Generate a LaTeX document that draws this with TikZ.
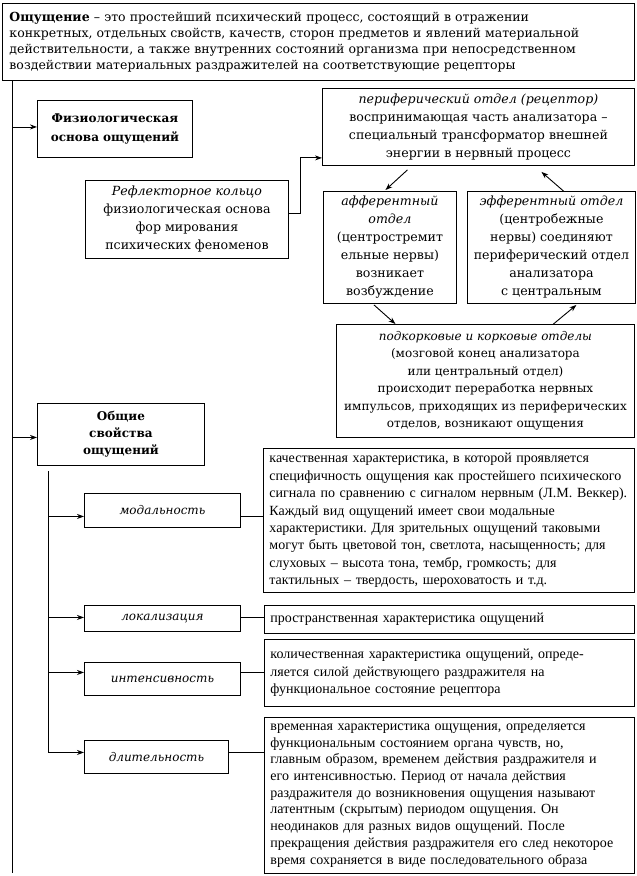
\documentclass[tikz,border=0pt]{standalone}
\usepackage{fontspec}
\setmainfont{DejaVu Serif}
\newfontfamily\tnr{Liberation Serif}
\usetikzlibrary{arrows.meta,calc}
\frenchspacing
\begin{document}
\begin{tikzpicture}[x=1pt,y=-1pt,
  bx/.style={draw, line width=0.9pt, inner sep=3pt, anchor=north west, align=center, font=\fontsize{12.6}{18}\selectfont},
  dsc/.style={draw, line width=0.9pt, inner xsep=6pt, inner ysep=2pt, anchor=north west, align=left, font=\tnr\fontsize{14}{17.4}\selectfont\frenchspacing},
  lbl/.style={draw, line width=0.9pt, anchor=north west, align=center, font=\itshape\fontsize{12}{14}\selectfont},
  arr/.style={line width=0.9pt, -{Stealth[length=7pt,width=5pt]}},
  ln/.style={line width=0.9pt}]
\useasboundingbox (0,0) rectangle (637,876);

\node[bx, align=left, text width=618pt, inner xsep=7pt, minimum height=77pt, font=\fontsize{12.5}{16}\selectfont] (top) at (2,3)
 {\textbf{Ощущение} – это простейший психический процесс, состоящий в отражении\\
  конкретных, отдельных свойств, качеств, сторон предметов и явлений материальной\\
  действительности, а также внутренних состояний организма при непосредственном\\
  воздействии материальных раздражителей на соответствующие рецепторы};

\node[bx, minimum width=155pt, minimum height=57pt, font=\bfseries\fontsize{12}{19}\selectfont] (fiz) at (37,100)
 {Физиологическая\\основа ощущений};

\node[bx, minimum width=203pt, minimum height=78pt] (refl) at (85,180)
 {\textit{Рефлекторное кольцо}\\физиологическая основа\\фор мирования\\психических феноменов};

\node[bx, minimum width=312pt, minimum height=77pt] (per) at (322,88)
 {\textit{периферический отдел (рецептор)}\\воспринимающая часть анализатора –\\специальный трансформатор внешней\\энергии в нервный процесс};

\node[bx, minimum width=133pt, minimum height=112pt] (aff) at (323,191)
 {\textit{афферентный}\\\textit{отдел}\\(центростремит\\ельные нервы)\\возникает\\возбуждение};

\node[bx, minimum width=168pt, minimum height=112pt] (eff) at (467,191)
 {\textit{эфферентный отдел}\\(центробежные\\нервы) соединяют\\периферический отдел\\анализатора\\с центральным};

\node[bx, minimum width=298pt, minimum height=113pt, font=\fontsize{12}{17.5}\selectfont] (sub) at (336,324)
 {\textit{подкорковые и корковые отделы}\\(мозговой конец анализатора\\или центральный отдел)\\происходит переработка нервных\\импульсов, приходящих из периферических\\отделов, возникают ощущения};

\node[bx, minimum width=167pt, minimum height=62pt, font=\bfseries\fontsize{12}{17}\selectfont] (obs) at (37,403)
 {Общие\\свойства\\ощущений};

\node[lbl, minimum width=156pt, minimum height=34pt] (mod) at (84,493) {модальность};
\node[lbl, minimum width=156pt, minimum height=26pt] (lok) at (84,605) {локализация};
\node[lbl, minimum width=156pt, minimum height=33pt] (int) at (84,662) {интенсивность};
\node[lbl, minimum width=144pt, minimum height=33pt] (dl) at (84,740) {длительность};

\node[dsc, text width=359pt, minimum height=144pt] (mdsc) at (263,448)
 {качественная характеристика, в которой проявляется\\
  специфичность ощущения как простейшего психического\\
  сигнала по сравнению с сигналом нервным (Л.М. Веккер).\\
  Каждый вид ощущений имеет свои модальные\\
  характеристики. Для зрительных ощущений таковыми\\
  могут быть цветовой тон, светлота, насыщенность; для\\
  слуховых – высота тона, тембр, громкость; для\\
  тактильных – твердость, шероховатость и т.д.};

\node[dsc, text width=358pt, minimum height=28pt] (ldsc) at (264,605)
 {пространственная характеристика ощущений};

\node[dsc, text width=358pt, minimum height=67pt] (idsc) at (264,639)
 {количественная характеристика ощущений, опреде-\\
  ляется силой действующего раздражителя на\\
  функциональное состояние рецептора};

\node[dsc, text width=358pt, minimum height=156pt, font=\tnr\fontsize{14}{16.7}\selectfont\frenchspacing] (ddsc) at (264,717)
 {временная характеристика ощущения, определяется\\
  функциональным состоянием органа чувств, но,\\
  главным образом, временем действия раздражителя и\\
  его интенсивностью. Период от начала действия\\
  раздражителя до возникновения ощущения называют\\
  латентным (скрытым) периодом ощущения. Он\\
  неодинаков для разных видов ощущений. После\\
  прекращения действия раздражителя его след некоторое\\
  время сохраняется в виде последовательного образа};

% main spine
\coordinate (mainend) at (12,873);
\draw[ln] (top.south -| mainend) -- (mainend);
\coordinate (fizin) at ([yshift=2pt]fiz.west);
\draw[arr] (mainend |- fizin) -- (fizin);
\coordinate (obsin) at ([yshift=-3pt]obs.west);
\draw[arr] (mainend |- obsin) -- (obsin);

% reflex ring
\coordinate (reflout) at ([yshift=6pt]refl.east);
\coordinate (perin) at ([yshift=8pt]per.south west);
\draw[arr] (reflout) -- ++(12,0) |- (perin);

\draw[arr] ($(per.south)+(-71,4)$) -- ($(aff.north)+(-4.5,-1)$);
\draw[arr] ($(eff.north)+(12,0)$) -- ($(per.south)+(63,6)$);
\draw[arr] ($(aff.south)+(-16,1)$) -- ($(sub.north)+(-90,0)$);
\draw[arr] ($(sub.north)+(68,0)$) -- ($(eff.south)+(25,1)$);

% properties
\coordinate (sectop) at (48,471);
\coordinate (modin) at ([yshift=-6pt]mod.west);
\coordinate (lokin) at ([yshift=1pt]lok.west);
\coordinate (intin) at ([yshift=6.5pt]int.west);
\coordinate (dlin) at ([yshift=4.5pt]dl.west);
\draw[arr] (sectop) |- (dlin);
\draw[arr] (sectop |- modin) -- (modin);
\draw[arr] (sectop |- lokin) -- (lokin);
\draw[arr] (sectop |- intin) -- (intin);
\draw[ln] (modin -| mod.east) -- (modin -| mdsc.west);
\draw[ln] (lokin -| lok.east) -- (lokin -| ldsc.west);
\draw[ln] (intin -| int.east) -- (intin -| idsc.west);
\draw[ln] (dlin -| dl.east) -- (dlin -| ddsc.west);
\end{tikzpicture}
\end{document}
